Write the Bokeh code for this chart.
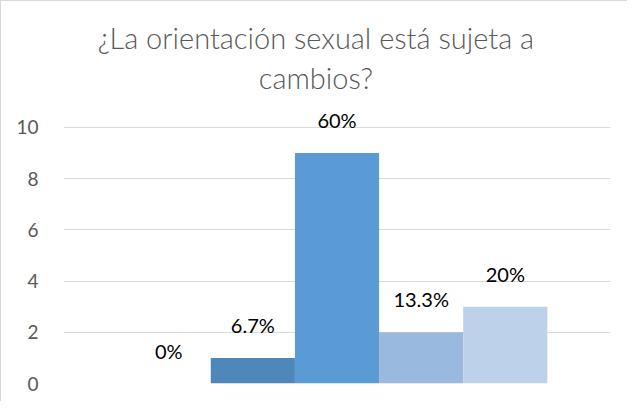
from bokeh.plotting import figure
from bokeh.models import ColumnDataSource, Range1d, FixedTicker, LabelSet
from bokeh.core.properties import value
from bokeh.embed import file_html
from bokeh.resources import INLINE

# ---- data ----
title_lines = ["¿La orientación sexual está sujeta a", "cambios?"]
counts = [0, 1, 9, 2, 3]
pct_labels = ["0%", "6.7%", "60%", "13.3%", "20%"]
bar_colors = ["#41719C", "#4F87BA", "#5B9BD5", "#9AB9DF", "#BDD1EA"]
y_ticks = [0, 2, 4, 6, 8, 10]

# ---- layout ----
W, H = 627, 401
FONT = "Lato"
TITLE_FONT = "'Lato Light', Lato"
Y_END = 14.92
FRAME_H = 382
PX = FRAME_H / Y_END  # pixels per unit


def px_to_y(py):
    return (FRAME_H - py) / PX


src = ColumnDataSource(dict(
    x=list(range(len(counts))),
    count=counts,
    label=pct_labels,
    color=bar_colors,
))

p = figure(width=W, height=H,
           x_range=Range1d(-1.25, len(counts) + 0.25),
           y_range=Range1d(0, Y_END),
           x_axis_location=None,
           output_backend="svg", toolbar_location=None,
           min_border_left=62, min_border_right=18,
           min_border_top=0, min_border_bottom=H - FRAME_H,
           styles={"border-left": "1px solid #d9d9d9", "border-top": "1px solid #d9d9d9"})
p.outline_line_color = None
p.background_fill_color = "white"
p.border_fill_color = "white"

p.vbar(x="x", top="count", width=1, source=src, fill_color="color", line_color=None)

labels = LabelSet(x="x", y="count", text="label", source=src, y_offset=33,
                  text_align="center", text_baseline="middle",
                  text_font=value(FONT), text_font_size="20px", text_color="#000000")
p.add_layout(labels)

# title as two centered text lines
title_x = 1.75
p.text(x=[title_x, title_x], y=[px_to_y(36), px_to_y(76)], text=title_lines,
       text_align="center", text_baseline="alphabetic",
       text_font=value(TITLE_FONT), text_font_size="29px", text_color="#595959")

p.xgrid.visible = False
p.ygrid.ticker = FixedTicker(ticks=y_ticks)
p.ygrid.grid_line_color = "#d9d9d9"
p.ygrid.grid_line_width = 1

ax = p.yaxis[0]
ax.ticker = FixedTicker(ticks=y_ticks)
ax.axis_line_color = None
ax.major_tick_line_color = None
ax.minor_tick_line_color = None
ax.major_tick_out = 0
ax.major_tick_in = 0
ax.major_label_standoff = 25
ax.major_label_text_font = FONT
ax.major_label_text_font_size = "19px"
ax.major_label_text_color = "#595959"

open("out.html", "w").write(file_html(p, INLINE))
